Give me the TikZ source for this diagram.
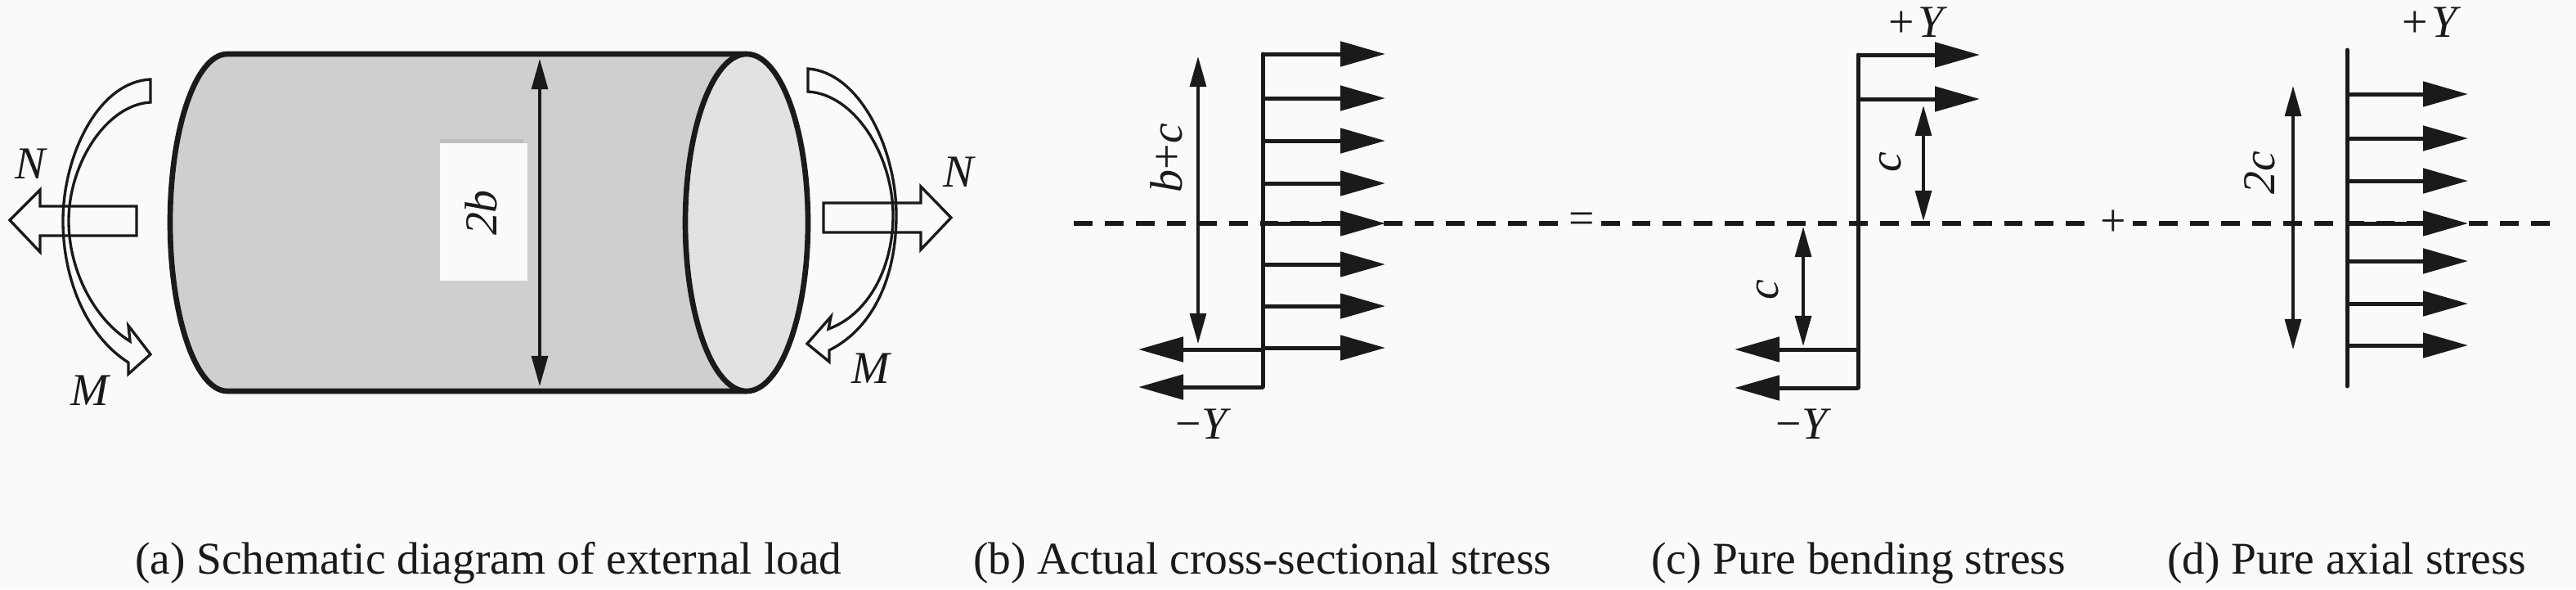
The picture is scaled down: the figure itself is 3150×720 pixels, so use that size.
\documentclass[tikz,border=0pt]{standalone}
\usepackage{fontspec}
\setmainfont{Liberation Serif}
\usetikzlibrary{arrows.meta}
\definecolor{paper}{HTML}{FAFAFA}
\definecolor{ink}{HTML}{1A1A1A}
\definecolor{bodygray}{HTML}{CFCFCF}
\definecolor{capgray}{HTML}{E2E2E2}
\definecolor{edgegray}{HTML}{BEBEBE}
\tikzset{
  x=0.24pt,y=-0.24pt,
  every node/.style={inner sep=0pt,outer sep=0pt,text=ink,font=\fontsize{13.4}{16}\selectfont},
  outline/.style={draw=ink,line width=1.6pt},
  blockarrow/.style={draw=ink,line width=0.8pt,line join=miter},
  loadarrow/.style={draw=ink,line width=1.2pt,-{Triangle[length=13.2pt,width=7.2pt]}},
  stem/.style={draw=ink,line width=1.2pt,line cap=round},
  dimline/.style={draw=ink,line width=0.75pt,{Triangle[length=8.9pt,width=4.8pt]}-{Triangle[length=8.9pt,width=4.8pt]}},
  axisline/.style={draw=ink,line width=1.5pt,dash pattern=on 5.5pt off 3.6pt},
  caption/.style={anchor=base west,font=\fontsize{13.32}{16}\selectfont},
  sym/.style={fill=paper,inner xsep=2pt,inner ysep=1pt}
}
\begin{document}
\begin{tikzpicture}
\useasboundingbox (0,0) rectangle (3150,720);
\fill[paper] (0,0) rectangle (3150,720);

% cylinder
\fill[bodygray] (278,66) -- (913,66) -- (913,478) -- (278,478)
  arc[start angle=270,end angle=90,x radius=16.8pt,y radius=49.44pt] -- cycle;
\draw[outline] (913,66) -- (278,66)
  arc[start angle=90,end angle=270,x radius=16.8pt,y radius=49.44pt] -- (913,478);
\draw[outline,fill=capgray] (913,272) ellipse[x radius=18pt,y radius=49.44pt];
\fill[edgegray] (538,170) rectangle (640,176);
\fill[paper] (538,175) rectangle (645,343);
\node[rotate=90] (lab2b) at (588,260) {\itshape 2b};
\coordinate (dimTop) at (660,72);
\coordinate (dimBot) at (660,472);
\draw[dimline] (dimTop) -- (dimBot);

% left loads
\draw[blockarrow] (12,269) -- (49,232) -- (49,252) -- (167,252) -- (167,288) -- (49,288) -- (49,308) -- cycle;
\draw[blockarrow] (184,97) .. controls (120,100) and (77,190) .. (77,270)
  .. controls (77,340) and (105,410) .. (157,443)
  -- (157,457) -- (184,433) -- (157,398) -- (159,417)
  .. controls (115,390) and (84,330) .. (84,270)
  .. controls (84,200) and (130,128) .. (184,125) -- cycle;
\node (Nl) at (37,200) {\itshape N};
\node (Ml) at (110,477) {\itshape M};

% right loads
\draw[blockarrow] (1163,266) -- (1126,228) -- (1126,248) -- (1007,248) -- (1007,284) -- (1126,284) -- (1126,305) -- cycle;
\draw[blockarrow] (988,84) .. controls (1050,88) and (1096,180) .. (1096,263)
  .. controls (1096,335) and (1070,400) .. (1014,428)
  -- (1014,442) -- (987,420) -- (1016,387) -- (1013,402)
  .. controls (1060,385) and (1092,330) .. (1092,263)
  .. controls (1092,190) and (1045,115) .. (988,112) -- cycle;
\node (Nr) at (1172,210) {\itshape N};
\node (Mr) at (1065,450) {\itshape M};

% neutral axis
\coordinate (axisL) at (1313,273);
\coordinate (axisR) at (3124,273);
\draw[axisline] (axisL) -- (axisR);
\node[sym] (eq) at (1934,273) {=};
\node[sym] (pl) at (2584,273) {+};

% (b)
\coordinate (bTop) at (1544,66);
\coordinate (bBot) at (1544,473);
\draw[stem] (bTop) -- (bBot);
\foreach \yy [count=\i] in {66,120,172,224,273,323,374,425}{
  \coordinate (bs\i) at (1544,\yy);
  \coordinate (be\i) at (1694,\yy);
  \draw[loadarrow] (bs\i) -- (be\i);
}
\foreach \yy [count=\i] in {427,473}{
  \coordinate (bn\i) at (1544,\yy);
  \coordinate (bm\i) at (1392,\yy);
  \draw[loadarrow] (bn\i) -- (bm\i);
}
\coordinate (bd1) at (1465,69);
\coordinate (bd2) at (1465,420);
\draw[dimline] (bd1) -- (bd2);
\node[rotate=90] (labbc) at (1426,193) {\itshape b\upshape +\itshape c};
\node (labbY) at (1469,518) {−\itshape Y};

% (c)
\coordinate (cTop) at (2272,67);
\coordinate (cBot) at (2272,474);
\draw[stem] (cTop) -- (cBot);
\foreach \yy [count=\i] in {67,121}{
  \coordinate (cs\i) at (2272,\yy);
  \coordinate (ce\i) at (2421,\yy);
  \draw[loadarrow] (cs\i) -- (ce\i);
}
\foreach \yy [count=\i] in {427,474}{
  \coordinate (cn\i) at (2272,\yy);
  \coordinate (cm\i) at (2121,\yy);
  \draw[loadarrow] (cn\i) -- (cm\i);
}
\coordinate (cd1) at (2352,129);
\coordinate (cd2) at (2352,270);
\coordinate (cd3) at (2205,277);
\coordinate (cd4) at (2205,423);
\draw[dimline] (cd1) -- (cd2);
\draw[dimline] (cd3) -- (cd4);
\node[rotate=90] (labc1) at (2312,198) {\itshape c};
\node[rotate=90] (labc2) at (2162,354) {\itshape c};
\node (labcP) at (2343,27) {+\hspace{0.08em}\itshape Y};
\node (labcM) at (2203,518) {−\itshape Y};

% (d)
\coordinate (dTop) at (2870,61);
\coordinate (dBot) at (2870,472);
\draw[stem] (dTop) -- (dBot);
\foreach \yy [count=\i] in {115,169,221,273,319,371,422}{
  \coordinate (ds\i) at (2870,\yy);
  \coordinate (de\i) at (3018,\yy);
  \draw[loadarrow] (ds\i) -- (de\i);
}
\coordinate (dd1) at (2804,105);
\coordinate (dd2) at (2804,427);
\draw[dimline] (dd1) -- (dd2);
\node[rotate=90] (lab2c) at (2763,211) {\itshape 2c};
\node (labdP) at (2971,27) {+\hspace{0.08em}\itshape Y};

% captions
\node[caption] (capa) at (165,701) {(a) Schematic diagram of external load};
\node[caption] (capb) at (1190,701) {(b) Actual cross-sectional stress};
\node[caption] (capc) at (2019,701) {(c) Pure bending stress};
\node[caption] (capd) at (2650,701) {(d) Pure axial stress};
\end{tikzpicture}
\end{document}
